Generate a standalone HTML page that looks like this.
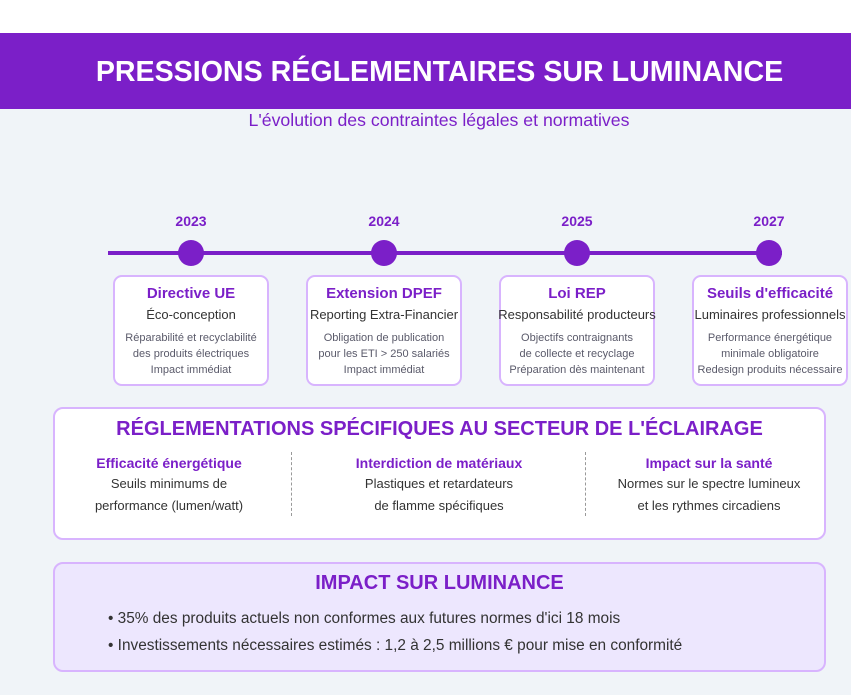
<!DOCTYPE html>
<html><head><meta charset="utf-8"><style>
*{margin:0;padding:0;box-sizing:border-box}
body{width:851px;height:695px;background:#f0f4f8;font-family:"Liberation Sans",Arial,sans-serif;position:relative;overflow:hidden}
.abs{position:absolute}
.top{left:0;top:0;width:851px;height:33px;background:#fff}
.ban{left:0;top:33px;width:851px;height:76px;background:#7b1fc8;color:#fff;font-weight:bold;font-size:28.6px;text-align:center;line-height:78px;padding-left:28px}
.sub{left:0;width:878px;top:109px;text-align:center;color:#7b1fc8;font-size:17.7px;line-height:22px}
.yr{width:80px;text-align:center;font-weight:bold;font-size:14px;color:#7b1fc8;top:213px}
.dot{width:26px;height:26px;border-radius:50%;background:#7b1fc8;top:240px}
.card{top:275px;width:156px;height:111px;background:#fff;border:2px solid #d8b4fe;border-radius:9px;text-align:center;white-space:nowrap}
.card h3{font-size:15px;color:#7b1fc8;margin-top:8px;line-height:18px}
.card .s{font-size:13px;color:#333;margin-top:4px;line-height:16px;margin-left:-10px;margin-right:-10px}
.card .d{font-size:11px;color:#5a5a6a;margin-top:7px;line-height:16px}
.box{left:53px;width:773px;border:2px solid #d8b4fe;border-radius:10px}
.col{top:453px;width:230px;text-align:center}
.col h4{font-size:14px;color:#7b1fc8;line-height:20px}
.col p{font-size:13px;color:#333;line-height:22px}
.div{top:452px;height:64px;border-left:1px dashed #999}
</style></head><body>
<div class="abs top"></div>
<div class="abs ban">PRESSIONS RÉGLEMENTAIRES SUR LUMINANCE</div>
<div class="abs sub">L'évolution des contraintes légales et normatives</div>
<div class="abs" style="left:108px;top:251px;width:674px;height:4px;background:#7b1fc8"></div>
<div class="abs yr" style="left:151px">2023</div>
<div class="abs yr" style="left:344px">2024</div>
<div class="abs yr" style="left:537px">2025</div>
<div class="abs yr" style="left:729px">2027</div>
<div class="abs dot" style="left:178px"></div>
<div class="abs dot" style="left:371px"></div>
<div class="abs dot" style="left:564px"></div>
<div class="abs dot" style="left:756px"></div>
<div class="abs card" style="left:113px"><h3>Directive UE</h3><div class="s">Éco-conception</div><div class="d">Réparabilité et recyclabilité<br>des produits électriques<br>Impact immédiat</div></div>
<div class="abs card" style="left:306px"><h3>Extension DPEF</h3><div class="s">Reporting Extra-Financier</div><div class="d">Obligation de publication<br>pour les ETI &gt; 250 salariés<br>Impact immédiat</div></div>
<div class="abs card" style="left:499px"><h3>Loi REP</h3><div class="s">Responsabilité producteurs</div><div class="d">Objectifs contraignants<br>de collecte et recyclage<br>Préparation dès maintenant</div></div>
<div class="abs card" style="left:692px"><h3>Seuils d'efficacité</h3><div class="s">Luminaires professionnels</div><div class="d">Performance énergétique<br>minimale obligatoire<br>Redesign produits nécessaire</div></div>
<div class="abs box" style="top:407px;height:133px;background:#fff"></div>
<div class="abs" style="left:53px;width:773px;top:417px;text-align:center;font-size:20px;font-weight:bold;color:#7b1fc8;line-height:24px">RÉGLEMENTATIONS SPÉCIFIQUES AU SECTEUR DE L'ÉCLAIRAGE</div>
<div class="abs col" style="left:54px"><h4>Efficacité énergétique</h4><p>Seuils minimums de<br>performance (lumen/watt)</p></div>
<div class="abs col" style="left:324px"><h4>Interdiction de matériaux</h4><p>Plastiques et retardateurs<br>de flamme spécifiques</p></div>
<div class="abs col" style="left:594px"><h4>Impact sur la santé</h4><p>Normes sur le spectre lumineux<br>et les rythmes circadiens</p></div>
<div class="abs div" style="left:291px"></div>
<div class="abs div" style="left:585px"></div>
<div class="abs box" style="top:562px;height:110px;background:#ede7fe"></div>
<div class="abs" style="left:53px;width:773px;top:571px;text-align:center;font-size:20px;font-weight:bold;color:#7b1fc8;line-height:24px">IMPACT SUR LUMINANCE</div>
<div class="abs" style="left:108px;top:605px;font-size:15.4px;color:#333;line-height:27px;white-space:nowrap">• 35% des produits actuels non conformes aux futures normes d'ici 18 mois<br>• Investissements nécessaires estimés : 1,2 à 2,5 millions € pour mise en conformité</div>
</body></html>
